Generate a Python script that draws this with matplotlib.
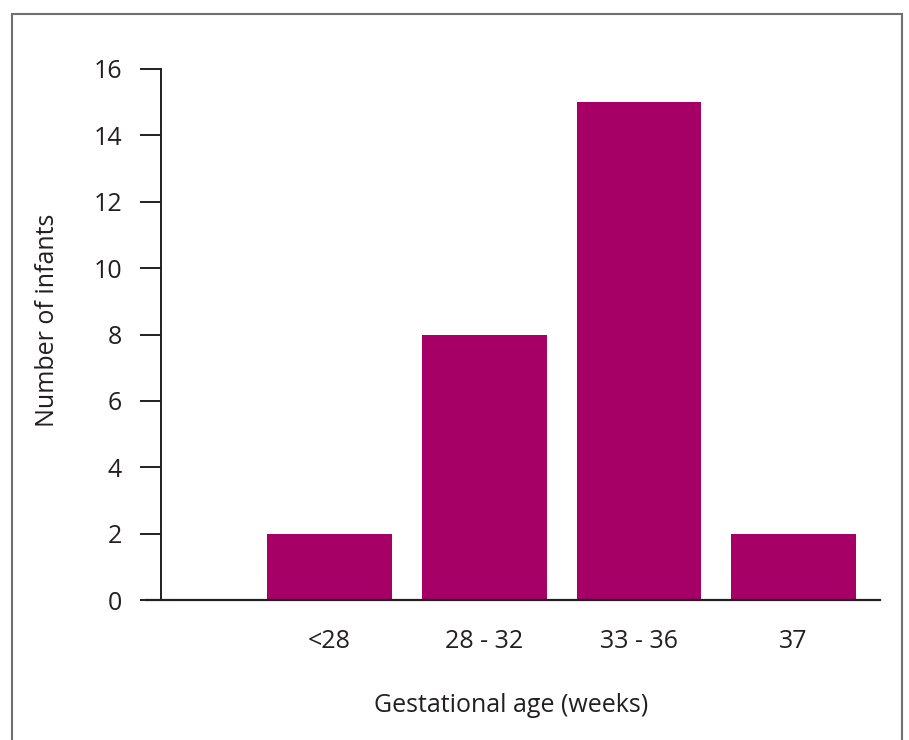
import matplotlib
matplotlib.use("Agg")
import matplotlib.pyplot as plt
from matplotlib.patches import Rectangle
from matplotlib.lines import Line2D

categories = ["<28", "28 - 32", "33 - 36", "37"]
counts = [2, 8, 15, 2]
yticks = [0, 2, 4, 6, 8, 10, 12, 14, 16]

bar_color = "#a60067"
text_color = "#231f20"
plt.rcParams['font.family'] = ['Open Sans', 'DejaVu Sans']

W, H = 909, 740
fig = plt.figure(figsize=(W / 100, H / 100), dpi=100)
ax = fig.add_axes([161 / W, 1 - 600 / H, (880 - 161) / W, (600 - 69) / H])

x = list(range(len(categories)))
ax.bar(x, counts, width=0.806, color=bar_color, zorder=2)
ax.set_xlim(-1.09, 3.558)
ax.set_ylim(0, 16)
ax.set_xticks(x)
ax.set_xticklabels(categories, fontsize=18, color=text_color)
ax.set_yticks(yticks)
ax.set_yticklabels([str(v) for v in yticks], fontsize=18, color=text_color)
ax.tick_params(axis='x', length=0, pad=21)
ax.tick_params(axis='y', length=15, width=1.4, color=text_color, pad=13)

for s in ['top', 'right', 'bottom']:
    ax.spines[s].set_visible(False)
ax.spines['left'].set_color(text_color)
ax.spines['left'].set_linewidth(1.4)
# baseline extends left to the tick length
ax.add_line(Line2D([-15 / 719, 1], [0, 0], transform=ax.transAxes, color=text_color,
                   lw=1.6, clip_on=False, zorder=3))

fig.text(48 / W, 1 - 320 / H, "Number of infants", rotation=90, ha='center', va='center',
         fontsize=18, color=text_color)
fig.text(511 / W, 1 - 705 / H, "Gestational age (weeks)", ha='center', va='center',
         fontsize=18, color=text_color)

fig.patches.append(Rectangle((12 / W, -0.05), (902 - 12) / W, 1.05 - 14 / H,
                             transform=fig.transFigure, fill=False, edgecolor="#707070",
                             lw=1.5))

fig.savefig("out.png", dpi=100)
